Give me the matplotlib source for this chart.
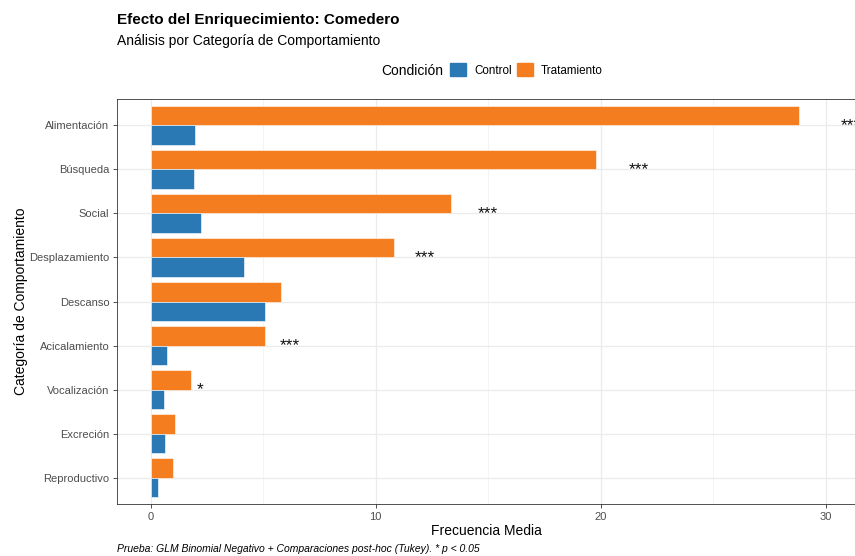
import numpy as np
import matplotlib
matplotlib.use("Agg")
import matplotlib.pyplot as plt
import matplotlib.patches as mpatches

plt.rcParams['font.family'] = ['Liberation Sans', 'DejaVu Sans']

# datos
categorias = ["Alimentación", "Búsqueda", "Social", "Desplazamiento", "Descanso",
              "Acicalamiento", "Vocalización", "Excreción", "Reproductivo"]
control = [1.97, 1.93, 2.24, 4.15, 5.08, 0.73, 0.60, 0.64, 0.31]
tratamiento = [28.8, 19.8, 13.37, 10.8, 5.79, 5.08, 1.80, 1.10, 0.98]
signif = ["***", "***", "***", "***", "", "***", "*", "", ""]
signif_x = [31.1, 21.7, 15.0, 12.2, 0, 6.2, 2.2, 0, 0]

col_control = "#2A78B4"
col_trat = "#F47D20"

fig = plt.figure(figsize=(8.55, 5.56), dpi=100)
ax = fig.add_axes([117/855, 1 - 504/556, 1 - 117/855, (504 - 99)/556])

n = len(categorias)
y = np.arange(n)[::-1]
h = 0.45
ax.barh(y + h/2, tratamiento, height=h, color=col_trat, edgecolor="white",
        linewidth=0.4, zorder=3)
ax.barh(y - h/2, control, height=h, color=col_control, edgecolor="white",
        linewidth=0.4, zorder=3)

for yi, s, sx in zip(y, signif, signif_x):
    if s:
        ax.text(sx, yi, s, ha="center", va="center", fontsize=12.5,
                color="#111111", clip_on=True, zorder=4)

ax.set_xlim(-1.49, 31.3)
ax.set_ylim(-0.6, n - 1 + 0.6)
ax.set_yticks(y)
ax.set_yticklabels(categorias)
ax.set_xticks([0, 10, 20, 30])
ax.set_xticks([5, 15, 25], minor=True)
ax.tick_params(axis="both", which="major", labelsize=8, labelcolor="#4D4D4D",
               color="#333333", length=3, width=0.6, pad=2.5)
ax.tick_params(axis="x", which="minor", length=0)
ax.grid(True, which="major", color="#EBEBEB", linewidth=0.9, zorder=0)
ax.grid(True, which="minor", axis="x", color="#F2F2F2", linewidth=0.6, zorder=0)
ax.set_axisbelow(True)
for sp in ax.spines.values():
    sp.set_color("#333333")
    sp.set_linewidth(0.6)

ax.set_xlabel("Frecuencia Media", fontsize=10, labelpad=1.5)
ax.set_ylabel("Categoría de Comportamiento", fontsize=10, labelpad=1)

fig.text(117/855, 1 - 20/556, "Efecto del Enriquecimiento: Comedero",
         fontsize=11, fontweight="bold", ha="left", va="center")
fig.text(117/855, 1 - 41/556, "Análisis por Categoría de Comportamiento",
         fontsize=10, ha="left", va="center")

# leyenda arriba
fig.text(381/855, 1 - 71/556, "Condición", fontsize=10, ha="left", va="center")
handles = [mpatches.Patch(color=col_control, label="Control"),
           mpatches.Patch(color=col_trat, label="Tratamiento")]
fig.legend(handles=handles, loc="center left", bbox_to_anchor=(450/855, 1 - 70/556),
           ncol=2, frameon=False, fontsize=8.4, handlelength=1.37, handleheight=1.37,
           handletextpad=0.68, columnspacing=0.45, borderaxespad=0, borderpad=0)

fig.text(117/855, 1 - 549/556,
         "Prueba: GLM Binomial Negativo + Comparaciones post-hoc (Tukey). * p < 0.05",
         fontsize=7.5, style="italic", ha="left", va="center")

fig.savefig("out.png", dpi=100)
